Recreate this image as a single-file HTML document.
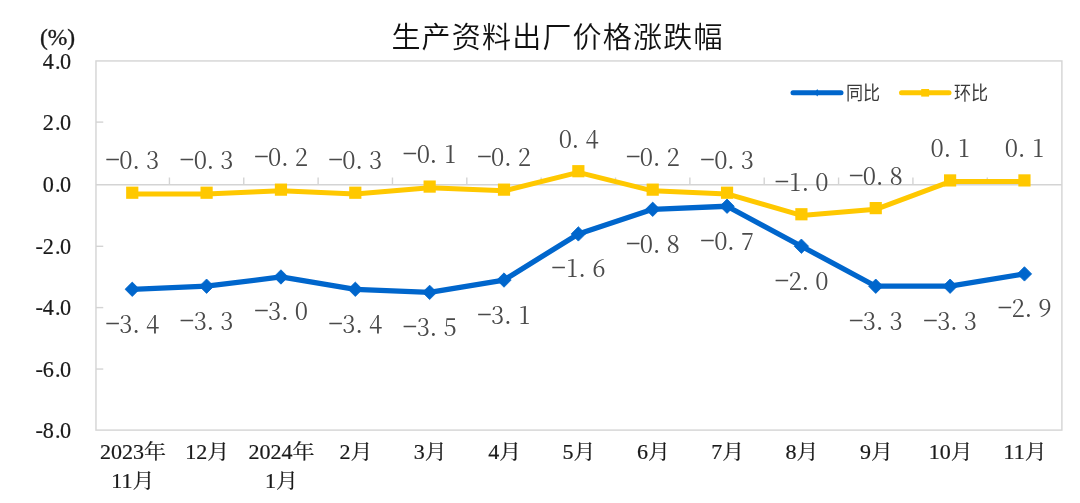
<!DOCTYPE html><html><head><meta charset="utf-8"><title>生产资料出厂价格涨跌幅</title><style>html,body{margin:0;padding:0;background:#fff;}svg{display:block;}</style></head><body>
<svg width="1080" height="503" viewBox="0 0 1080 503" style="filter:blur(0.4px)">
<rect width="1080" height="503" fill="#fff"/>
<text x="557.5" y="47.5" text-anchor="middle" font-family="'Liberation Sans','Noto Sans CJK SC',sans-serif" font-size="29" font-weight="350" letter-spacing="1.2" fill="#111">生产资料出厂价格涨跌幅</text>
<text x="57.5" y="45" text-anchor="middle" font-family="'Liberation Serif',serif" font-size="23.5" fill="#1a1a1a" stroke="#1a1a1a" stroke-width="0.35">(%)</text>
<rect x="95.96" y="60.94" width="965.94" height="369.16" fill="none" stroke="#D4D4D4" stroke-width="1.4"/>
<g font-family="'Liberation Serif',serif" font-size="22.2" text-anchor="middle" fill="#1a1a1a" stroke="#1a1a1a" stroke-width="0.2"><text x="48.3 57.7 65.5" y="68.5">4.0</text><text x="48.3 57.7 65.5" y="129.7">2.0</text><text x="48.3 57.7 65.5" y="192.3">0.0</text><text x="39.3 48.3 57.7 65.5" y="253.9">-2.0</text><text x="39.3 48.3 57.7 65.5" y="315.2">-4.0</text><text x="39.3 48.3 57.7 65.5" y="376.7">-6.0</text><text x="39.3 48.3 57.7 65.5" y="437.7">-8.0</text></g>
<line x1="95.96" y1="122.1" x2="103.26" y2="122.1" stroke="#D4D4D4" stroke-width="1.4"/><line x1="95.96" y1="246.3" x2="103.26" y2="246.3" stroke="#D4D4D4" stroke-width="1.4"/><line x1="95.96" y1="307.6" x2="103.26" y2="307.6" stroke="#D4D4D4" stroke-width="1.4"/><line x1="95.96" y1="369.05" x2="103.26" y2="369.05" stroke="#D4D4D4" stroke-width="1.4"/>
<line x1="95.96" y1="184.7" x2="1061.9" y2="184.7" stroke="#D4D4D4" stroke-width="1.4"/>
<line x1="169.43" y1="177.5" x2="169.43" y2="184.7" stroke="#D4D4D4" stroke-width="1.4"/>
<line x1="243.77" y1="177.5" x2="243.77" y2="184.7" stroke="#D4D4D4" stroke-width="1.4"/>
<line x1="318.12" y1="177.5" x2="318.12" y2="184.7" stroke="#D4D4D4" stroke-width="1.4"/>
<line x1="392.47" y1="177.5" x2="392.47" y2="184.7" stroke="#D4D4D4" stroke-width="1.4"/>
<line x1="466.82" y1="177.5" x2="466.82" y2="184.7" stroke="#D4D4D4" stroke-width="1.4"/>
<line x1="541.17" y1="177.5" x2="541.17" y2="184.7" stroke="#D4D4D4" stroke-width="1.4"/>
<line x1="615.52" y1="177.5" x2="615.52" y2="184.7" stroke="#D4D4D4" stroke-width="1.4"/>
<line x1="689.88" y1="177.5" x2="689.88" y2="184.7" stroke="#D4D4D4" stroke-width="1.4"/>
<line x1="764.22" y1="177.5" x2="764.22" y2="184.7" stroke="#D4D4D4" stroke-width="1.4"/>
<line x1="838.57" y1="177.5" x2="838.57" y2="184.7" stroke="#D4D4D4" stroke-width="1.4"/>
<line x1="912.92" y1="177.5" x2="912.92" y2="184.7" stroke="#D4D4D4" stroke-width="1.4"/>
<line x1="987.27" y1="177.5" x2="987.27" y2="184.7" stroke="#D4D4D4" stroke-width="1.4"/>
<g font-family="'Liberation Serif','Noto Serif CJK SC',serif" font-size="20" fill="#1a1a1a" stroke="#1a1a1a" stroke-width="0.2"><text transform="translate(132.9,458.5) scale(1.1,1)" text-anchor="middle">2023年</text><text transform="translate(132.9,487.6) scale(1.1,1)" text-anchor="middle">11月</text><text transform="translate(207.3,458.5) scale(1.1,1)" text-anchor="middle">12月</text><text transform="translate(281.6,458.5) scale(1.1,1)" text-anchor="middle">2024年</text><text transform="translate(281.6,487.6) scale(1.1,1)" text-anchor="middle">1月</text><text transform="translate(356.0,458.5) scale(1.1,1)" text-anchor="middle">2月</text><text transform="translate(430.3,458.5) scale(1.1,1)" text-anchor="middle">3月</text><text transform="translate(504.7,458.5) scale(1.1,1)" text-anchor="middle">4月</text><text transform="translate(579.0,458.5) scale(1.1,1)" text-anchor="middle">5月</text><text transform="translate(653.4,458.5) scale(1.1,1)" text-anchor="middle">6月</text><text transform="translate(727.8,458.5) scale(1.1,1)" text-anchor="middle">7月</text><text transform="translate(802.1,458.5) scale(1.1,1)" text-anchor="middle">8月</text><text transform="translate(876.5,458.5) scale(1.1,1)" text-anchor="middle">9月</text><text transform="translate(950.8,458.5) scale(1.1,1)" text-anchor="middle">10月</text><text transform="translate(1025.1,458.5) scale(1.1,1)" text-anchor="middle">11月</text></g>
<polyline points="132.25,193.93 206.60,193.93 280.95,190.85 355.30,193.93 429.65,187.78 504.00,190.85 578.35,172.40 652.70,190.85 727.05,193.93 801.40,215.46 875.75,209.31 950.10,181.62 1024.45,181.62" fill="none" stroke="#FFC800" stroke-width="5.0" stroke-linejoin="round"/>
<polyline points="132.25,289.28 206.60,286.21 280.95,276.98 355.30,289.28 429.65,292.36 504.00,280.06 578.35,233.92 652.70,209.31 727.05,206.23 801.40,246.22 875.75,286.21 950.10,286.21 1024.45,273.90" fill="none" stroke="#0066CC" stroke-width="5.3" stroke-linejoin="round"/>
<rect x="126.15" y="186.63" width="12.2" height="12.2" fill="#FFC800"/><rect x="200.50" y="186.63" width="12.2" height="12.2" fill="#FFC800"/><rect x="274.85" y="183.55" width="12.2" height="12.2" fill="#FFC800"/><rect x="349.20" y="186.63" width="12.2" height="12.2" fill="#FFC800"/><rect x="423.55" y="180.48" width="12.2" height="12.2" fill="#FFC800"/><rect x="497.90" y="183.55" width="12.2" height="12.2" fill="#FFC800"/><rect x="572.25" y="165.10" width="12.2" height="12.2" fill="#FFC800"/><rect x="646.60" y="183.55" width="12.2" height="12.2" fill="#FFC800"/><rect x="720.95" y="186.63" width="12.2" height="12.2" fill="#FFC800"/><rect x="795.30" y="208.16" width="12.2" height="12.2" fill="#FFC800"/><rect x="869.65" y="202.01" width="12.2" height="12.2" fill="#FFC800"/><rect x="944.00" y="174.32" width="12.2" height="12.2" fill="#FFC800"/><rect x="1018.35" y="174.32" width="12.2" height="12.2" fill="#FFC800"/><path d="M132.25 282.08L139.45 289.28L132.25 296.48L125.05 289.28Z" fill="#0066CC" stroke="#0066CC" stroke-width="0.8" stroke-linejoin="round"/><path d="M206.60 279.01L213.80 286.21L206.60 293.41L199.40 286.21Z" fill="#0066CC" stroke="#0066CC" stroke-width="0.8" stroke-linejoin="round"/><path d="M280.95 269.78L288.15 276.98L280.95 284.18L273.75 276.98Z" fill="#0066CC" stroke="#0066CC" stroke-width="0.8" stroke-linejoin="round"/><path d="M355.30 282.08L362.50 289.28L355.30 296.48L348.10 289.28Z" fill="#0066CC" stroke="#0066CC" stroke-width="0.8" stroke-linejoin="round"/><path d="M429.65 285.16L436.85 292.36L429.65 299.56L422.45 292.36Z" fill="#0066CC" stroke="#0066CC" stroke-width="0.8" stroke-linejoin="round"/><path d="M504.00 272.86L511.20 280.06L504.00 287.26L496.80 280.06Z" fill="#0066CC" stroke="#0066CC" stroke-width="0.8" stroke-linejoin="round"/><path d="M578.35 226.72L585.55 233.92L578.35 241.12L571.15 233.92Z" fill="#0066CC" stroke="#0066CC" stroke-width="0.8" stroke-linejoin="round"/><path d="M652.70 202.11L659.90 209.31L652.70 216.51L645.50 209.31Z" fill="#0066CC" stroke="#0066CC" stroke-width="0.8" stroke-linejoin="round"/><path d="M727.05 199.03L734.25 206.23L727.05 213.43L719.85 206.23Z" fill="#0066CC" stroke="#0066CC" stroke-width="0.8" stroke-linejoin="round"/><path d="M801.40 239.02L808.60 246.22L801.40 253.42L794.20 246.22Z" fill="#0066CC" stroke="#0066CC" stroke-width="0.8" stroke-linejoin="round"/><path d="M875.75 279.01L882.95 286.21L875.75 293.41L868.55 286.21Z" fill="#0066CC" stroke="#0066CC" stroke-width="0.8" stroke-linejoin="round"/><path d="M950.10 279.01L957.30 286.21L950.10 293.41L942.90 286.21Z" fill="#0066CC" stroke="#0066CC" stroke-width="0.8" stroke-linejoin="round"/><path d="M1024.45 266.70L1031.65 273.90L1024.45 281.10L1017.25 273.90Z" fill="#0066CC" stroke="#0066CC" stroke-width="0.8" stroke-linejoin="round"/>
<g font-family="'Noto Serif CJK SC',serif" font-size="23.8" fill="#4a4a4a" text-anchor="middle"><text x="112.6 126.0 136.1 152.7" y="169.3"><tspan dy="-1" stroke="#4a4a4a" stroke-width="0.45">−</tspan><tspan dy="1">0.3</tspan></text><text x="187.0 200.3 210.5 227.0" y="169.3"><tspan dy="-1" stroke="#4a4a4a" stroke-width="0.45">−</tspan><tspan dy="1">0.3</tspan></text><text x="261.3 274.7 284.8 301.4" y="166.3"><tspan dy="-1" stroke="#4a4a4a" stroke-width="0.45">−</tspan><tspan dy="1">0.2</tspan></text><text x="335.7 349.0 359.2 375.7" y="169.3"><tspan dy="-1" stroke="#4a4a4a" stroke-width="0.45">−</tspan><tspan dy="1">0.3</tspan></text><text x="410.0 423.4 433.5 450.1" y="163.2"><tspan dy="-1" stroke="#4a4a4a" stroke-width="0.45">−</tspan><tspan dy="1">0.1</tspan></text><text x="484.4 497.7 507.9 524.4" y="166.3"><tspan dy="-1" stroke="#4a4a4a" stroke-width="0.45">−</tspan><tspan dy="1">0.2</tspan></text><text x="565.4 575.5 592.1" y="147.8">0.4</text><text x="633.1 646.4 656.6 673.1" y="166.3"><tspan dy="-1" stroke="#4a4a4a" stroke-width="0.45">−</tspan><tspan dy="1">0.2</tspan></text><text x="707.4 720.8 730.9 747.5" y="169.3"><tspan dy="-1" stroke="#4a4a4a" stroke-width="0.45">−</tspan><tspan dy="1">0.3</tspan></text><text x="781.8 795.1 805.3 821.8" y="190.9"><tspan dy="-1" stroke="#4a4a4a" stroke-width="0.45">−</tspan><tspan dy="1">1.0</tspan></text><text x="856.1 869.5 879.6 896.2" y="184.7"><tspan dy="-1" stroke="#4a4a4a" stroke-width="0.45">−</tspan><tspan dy="1">0.8</tspan></text><text x="937.1 947.3 963.8" y="157.0">0.1</text><text x="1011.5 1021.6 1038.2" y="157.0">0.1</text><text x="112.6 126.0 136.1 152.7" y="332.7"><tspan dy="-1" stroke="#4a4a4a" stroke-width="0.45">−</tspan><tspan dy="1">3.4</tspan></text><text x="187.0 200.3 210.5 227.0" y="329.6"><tspan dy="-1" stroke="#4a4a4a" stroke-width="0.45">−</tspan><tspan dy="1">3.3</tspan></text><text x="261.3 274.7 284.8 301.4" y="320.4"><tspan dy="-1" stroke="#4a4a4a" stroke-width="0.45">−</tspan><tspan dy="1">3.0</tspan></text><text x="335.7 349.0 359.2 375.7" y="332.7"><tspan dy="-1" stroke="#4a4a4a" stroke-width="0.45">−</tspan><tspan dy="1">3.4</tspan></text><text x="410.0 423.4 433.5 450.1" y="335.8"><tspan dy="-1" stroke="#4a4a4a" stroke-width="0.45">−</tspan><tspan dy="1">3.5</tspan></text><text x="484.4 497.7 507.9 524.4" y="323.5"><tspan dy="-1" stroke="#4a4a4a" stroke-width="0.45">−</tspan><tspan dy="1">3.1</tspan></text><text x="558.7 572.1 582.2 598.8" y="277.3"><tspan dy="-1" stroke="#4a4a4a" stroke-width="0.45">−</tspan><tspan dy="1">1.6</tspan></text><text x="633.1 646.4 656.6 673.1" y="252.7"><tspan dy="-1" stroke="#4a4a4a" stroke-width="0.45">−</tspan><tspan dy="1">0.8</tspan></text><text x="707.4 720.8 730.9 747.5" y="249.6"><tspan dy="-1" stroke="#4a4a4a" stroke-width="0.45">−</tspan><tspan dy="1">0.7</tspan></text><text x="781.8 795.1 805.3 821.8" y="289.6"><tspan dy="-1" stroke="#4a4a4a" stroke-width="0.45">−</tspan><tspan dy="1">2.0</tspan></text><text x="856.1 869.5 879.6 896.2" y="329.6"><tspan dy="-1" stroke="#4a4a4a" stroke-width="0.45">−</tspan><tspan dy="1">3.3</tspan></text><text x="930.5 943.8 954.0 970.5" y="329.6"><tspan dy="-1" stroke="#4a4a4a" stroke-width="0.45">−</tspan><tspan dy="1">3.3</tspan></text><text x="1004.8 1018.2 1028.3 1044.9" y="317.3"><tspan dy="-1" stroke="#4a4a4a" stroke-width="0.45">−</tspan><tspan dy="1">2.9</tspan></text></g>
<line x1="793" y1="92.8" x2="841" y2="92.8" stroke="#0066CC" stroke-width="5" stroke-linecap="round"/>
<path d="M817.2 89.0L819.4 92.8L817.2 96.6L815 92.8Z" fill="#0066CC"/>
<text transform="translate(846,99.8) scale(0.9,1)" font-family="'Liberation Sans','Noto Sans CJK SC',sans-serif" font-size="19" font-weight="400" fill="#3a3a3a">同比</text>
<line x1="901.5" y1="92.8" x2="949" y2="92.8" stroke="#FFC800" stroke-width="5" stroke-linecap="round"/>
<rect x="921.2" y="89.0" width="7.9" height="7.6" fill="#FFC800"/>
<text transform="translate(954,99.8) scale(0.9,1)" font-family="'Liberation Sans','Noto Sans CJK SC',sans-serif" font-size="19" font-weight="400" fill="#3a3a3a">环比</text>
</svg></body></html>
